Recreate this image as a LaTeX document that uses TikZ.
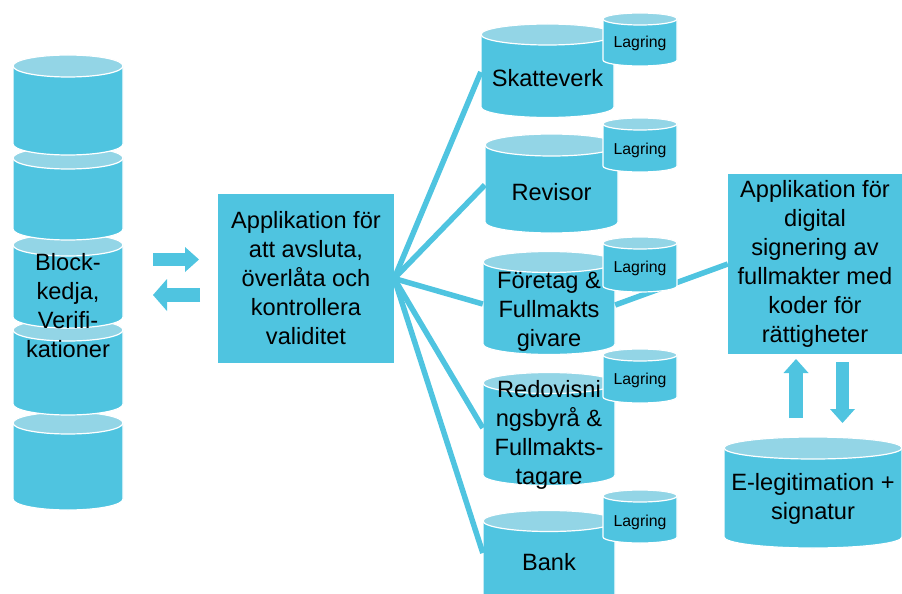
\documentclass[tikz,border=0pt]{standalone}
\usepackage{fontspec}
\setmainfont{Liberation Sans}
\usepackage{tikz}
\usetikzlibrary{%
  arrows.meta% Triangle tips of the fat arrows
}
\definecolor{dbblue}{HTML}{4FC4E0}
\definecolor{dbtop}{HTML}{93D5E6}

\begin{document}
\begin{tikzpicture}
    [   x=1pt
    ,   y=-1pt
    ,   dbside/.style={fill=dbblue, draw=white, line width=1.2pt}
    ,   dbcap/.style={fill=dbtop, draw=white, line width=1.2pt}
    ,   pics/dbcyl/.style n args={3}{code={% height, x radius, y radius
            \filldraw[dbside] (-#2,0) -- (-#2,#1)
                arc[start angle=180, end angle=360, x radius=#2pt, y radius=#3pt]
                -- (#2,0)
                arc[start angle=0, end angle=180, x radius=#2pt, y radius=#3pt] -- cycle;
            \filldraw[dbcap] (0,0) ellipse[x radius=#2pt, y radius=#3pt];
        }}
    ,   box/.style=
            {   % The shape:
                rectangle
            ,   inner sep=0pt
            ,   fill=dbblue
            ,   % The rest
                align=center
            ,   font=\fontsize{23.6}{29}\selectfont
            }
    ,   dbtext/.style={inner sep=0pt, align=center, font=\fontsize{23.6}{29}\selectfont}
    ,   lagtext/.style={inner sep=0pt, font=\fontsize{15.8}{19}\selectfont}
    ,   link/.style={draw=dbblue, line width=5.5pt}
    ,   fat/.style={draw=dbblue, line width=13.5pt, -{Triangle[length=14pt, width=#1, line width=0pt]}}
    ]
    \useasboundingbox (0,0) rectangle (902,594);

    % block chain
    \pic at (68,423) {dbcyl={76}{55}{11}};
    \pic at (68,330) {dbcyl={74}{55}{11}};
    \pic at (68,245) {dbcyl={72}{55}{11}};
    \pic at (68,158) {dbcyl={71}{55}{11}};
    \pic at (68,66)  {dbcyl={78}{55}{11}};
    \node[dbtext](chain) at (68,306){Block-\\kedja,\\Verifi-\\kationer};

    % applications
    \node[box, minimum width=176pt, minimum height=169pt](app) at (306,278.5)
        {Applikation för\\att avsluta,\\överlåta och\\kontrollera\\validitet};
    \node[box, minimum width=174pt, minimum height=180pt](sign) at (815,264)
        {Applikation för\\digital\\signering av\\fullmakter med\\koder för\\rättigheter};

    % parties
    \pic at (547.5,34.5) {dbcyl={72.5}{66.5}{10.5}};
    \pic at (551.5,145)  {dbcyl={77}{66.5}{11}};
    \pic at (549,262)    {dbcyl={82}{66}{10.5}};
    \pic at (549,383)    {dbcyl={92}{66}{10.5}};
    \pic at (549,521)    {dbcyl={76}{66}{10.5}};
    \pic at (813,448)    {dbcyl={89}{89}{11}};
    \node[dbtext, minimum width=133pt](skv) at (547.5,78){Skatteverk};
    \node[dbtext, minimum width=133pt](rev) at (551.5,192){Revisor};
    \node[dbtext, minimum width=132pt](ftg) at (549,312){Företag \&\\Fullmakts\\givare};
    \node[dbtext, minimum width=132pt](redo) at (549,435){Redovisni\\ngsbyrå \&\\Fullmakts-\\tagare};
    \node[dbtext, minimum width=132pt](bank) at (549,562){Bank};
    \node[dbtext](eleg) at (813,499){E-legitimation +\\signatur};

    \draw[link](app.east)--([yshift=6pt]skv.west);
    \draw[link](app.east)--([yshift=7pt]rev.west);
    \draw[link](app.east)--([yshift=8pt]ftg.west);
    \draw[link](app.east)--([yshift=7pt]redo.west);
    \draw[link](app.east)--([yshift=9pt]bank.west);
    \draw[link]([yshift=7pt]ftg.east)--(sign.west);

    % storage
    \pic at (640,19)  {dbcyl={41}{37}{6}};
    \pic at (640,124) {dbcyl={42}{37}{6}};
    \pic at (640,243) {dbcyl={43}{37}{6}};
    \pic at (640,355) {dbcyl={42}{37}{6}};
    \pic at (640,496) {dbcyl={41}{37}{6}};
    \node[lagtext](lag1) at (640,43){Lagring};
    \node[lagtext](lag2) at (640,150){Lagring};
    \node[lagtext](lag3) at (640,268){Lagring};
    \node[lagtext](lag4) at (640,380){Lagring};
    \node[lagtext](lag5) at (640,522){Lagring};

    % fat arrows
    \coordinate(in1) at (153,259.5);
    \coordinate(in2) at (199,259.5);
    \coordinate(out1) at (200,295);
    \coordinate(out2) at (153,295);
    \coordinate(up1) at (796,418);
    \coordinate(up2) at (796,359);
    \coordinate(dn1) at (842.5,362);
    \coordinate(dn2) at (842.5,423);
    \draw[fat=25pt](in1)--(in2);
    \draw[fat=32pt](out1)--(out2);
    \draw[fat=25pt](up1)--(up2);
    \draw[fat=25pt](dn1)--(dn2);
\end{tikzpicture}
\end{document}
